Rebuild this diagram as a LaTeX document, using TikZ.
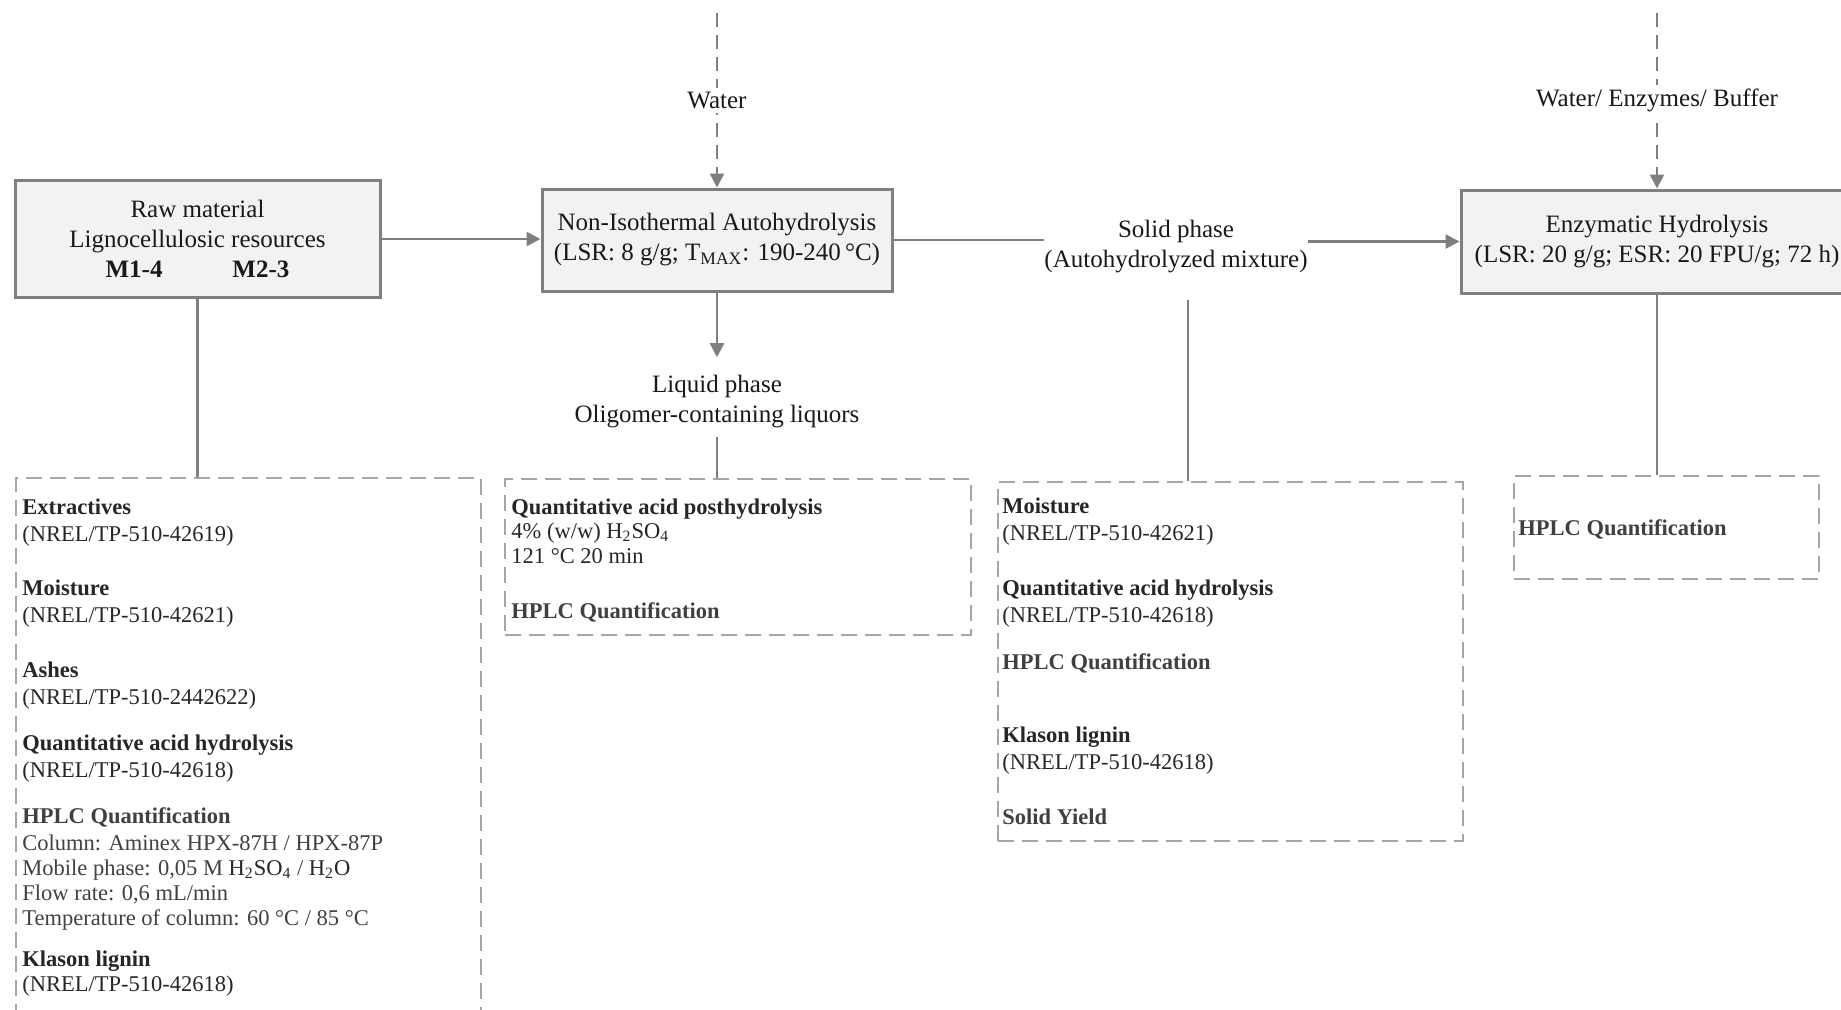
\documentclass[tikz,border=0pt]{standalone}
\usepackage{fontspec}
\setmainfont{Liberation Serif}
\usetikzlibrary{calc,arrows.meta,positioning}

\definecolor{boxgray}{HTML}{F2F2F2}
\definecolor{edgegray}{HTML}{7F7F7F}
\definecolor{dashgray}{HTML}{A6A6A6}
\definecolor{txtgray}{HTML}{404040}

\newcommand{\mainsize}{\fontsize{12.5}{15}\selectfont}
\newcommand{\boxsize}{\fontsize{11.25}{13.5}\selectfont}
\newcommand{\hd}[1]{\textbf{#1}}
\newcommand{\hplc}{\textcolor{txtgray}{\textbf{HPLC Quantification}}}

\tikzset{
  stage/.style={draw=edgegray, line width=1.5pt, fill=boxgray, align=center, font=\mainsize, text=black!90},
  plain/.style={align=center, font=\mainsize, inner sep=0pt, text=black!90},
  flow/.style={draw=edgegray, line width=1.3pt},
  flowarr/.style={flow, -{Triangle[length=7pt,width=7pt]}},
  feed/.style={flowarr, dash pattern=on 7pt off 4pt},
  anabox/.style={draw=dashgray, line width=1.1pt, dash pattern=on 8pt off 4pt, anchor=north west, inner sep=0pt},
  anatext/.style={anchor=north west, align=left, inner sep=0pt, font=\boxsize, text=black!85},
}

\begin{document}
\begin{tikzpicture}[x=0.5pt,y=-0.5pt]
\useasboundingbox (0,0) rectangle (1841,1009);

\node[stage, minimum width=182.5pt, minimum height=58.5pt] (raw) at (197.5,239)
  {Raw material\\Lignocellulosic resources\\\textbf{M1-4}\hspace{35pt}\textbf{M2-3}};
\node[stage, minimum width=175pt, minimum height=51pt] (nia) at (717,240)
  {Non-Isothermal Autohydrolysis\\(LSR: 8 g/g; T\textsubscript{MAX}: 190-240\,°C)};
\node[plain] (solid) at (1176,247) {Solid phase\\(Autohydrolyzed mixture)};
\node[stage, minimum width=196pt, minimum height=51.5pt, inner xsep=1pt] (eh) at (1657,241.5)
  {Enzymatic Hydrolysis\\(LSR: 20 g/g; ESR: 20 FPU/g; 72 h)};
\node[plain, inner ysep=4pt] (liquid) at (717,402) {Liquid phase\\Oligomer-containing liquors};

\coordinate (wsrc) at (717,13);
\coordinate (esrc) at (1657,13);
\coordinate (sdrop) at (1188,300);

\node[anabox, minimum width=232.5pt, minimum height=280pt] (box1) at (15,477) {};
\node[anabox, minimum width=233pt, minimum height=78pt] (box2) at (504,478) {};
\node[anabox, minimum width=232.5pt, minimum height=179.5pt] (box3) at (997,481) {};
\node[anabox, minimum width=152.5pt, minimum height=51.5pt] (box4) at (1513,475) {};

\draw[feed] (wsrc) -- node[plain, fill=white, inner sep=2pt] (water) {Water} (nia);
\draw[feed] (esrc) -- node[plain, fill=white, inner sep=2pt] (buffer) {Water/ Enzymes/ Buffer} (eh);

\draw[flowarr] (raw.east) -- (raw.east -| nia.west);
\draw[flow] (nia.east) -- (nia.east -| solid.west);
\draw[flowarr] (eh.west -| solid.east) -- (eh.west);
\draw[flowarr, shorten >=5pt] (nia) -- (liquid);

\foreach \a/\b in {raw/box1, liquid/box2, eh/box4}
  \draw[flow] (\a) -- (\a |- \b.north);
\draw[flow] (sdrop) -- (sdrop |- box3.north);

\node[anatext] (ana1) at ($(box1.north west)+(7,21)$) {%
  \hd{Extractives}\\
  (NREL/TP-510-42619)\\[13.5pt]
  \hd{Moisture}\\
  (NREL/TP-510-42621)\\[14pt]
  \hd{Ashes}\\
  (NREL/TP-510-2442622)\\[9.5pt]
  \hd{Quantitative acid hydrolysis}\\
  (NREL/TP-510-42618)\\[9.5pt]
  \hplc\\
  \textcolor{txtgray}{Column: Aminex HPX-87H / HPX-87P}\\[-1pt]
  \textcolor{txtgray}{Mobile phase: 0,05 M} H\textsubscript{2}SO\textsubscript{4} \textcolor{txtgray}{/} H\textsubscript{2}O\\[-1pt]
  \textcolor{txtgray}{Flow rate: 0,6 mL/min}\\[-1pt]
  \textcolor{txtgray}{Temperature of column: 60 °C / 85 °C}\\[7pt]
  \hd{Klason lignin}\\[-1pt]
  (NREL/TP-510-42618)};

\node[anatext] (ana2) at ($(box2.north west)+(7,20)$) {%
  \hd{Quantitative acid posthydrolysis}\\[-1.25pt]
  4\% (w/w) H\textsubscript{2}SO\textsubscript{4}\\[-1.25pt]
  121 °C 20 min\\[14.25pt]
  \hplc};

\node[anatext] (ana3) at ($(box3.north west)+(5,16)$) {%
  \hd{Moisture}\\
  (NREL/TP-510-42621)\\[14pt]
  \hd{Quantitative acid hydrolysis}\\
  (NREL/TP-510-42618)\\[10pt]
  \hplc\\[23pt]
  \hd{Klason lignin}\\
  (NREL/TP-510-42618)\\[14pt]
  \textcolor{txtgray}{\textbf{Solid Yield}}};

\node[anatext] (ana4) at ($(box4.north west)+(5,44)$) {\hplc};

\end{tikzpicture}
\end{document}
